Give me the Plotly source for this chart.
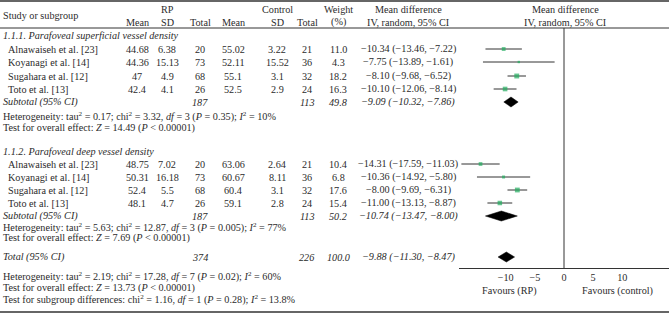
import plotly.graph_objects as go

# ---------------- data ----------------
studies = ["Alnawaiseh et al. [23]", "Koyanagi et al. [14]", "Sugahara et al. [12]", "Toto et al. [13]"]

sup_rp_mean = [44.68, 44.36, 47, 42.4]
sup_rp_sd = [6.38, 15.13, 4.9, 4.1]
sup_rp_n = [20, 73, 68, 26]
sup_ct_mean = [55.02, 52.11, 55.1, 52.5]
sup_ct_sd = [3.22, 15.52, 3.1, 2.9]
sup_ct_n = [21, 36, 32, 24]
sup_weight = [11.0, 4.3, 18.2, 16.3]
sup_md = [-10.34, -7.75, -8.10, -10.10]
sup_lo = [-13.46, -13.89, -9.68, -12.06]
sup_hi = [-7.22, -1.61, -6.52, -8.14]

deep_rp_mean = [48.75, 50.31, 52.4, 48.1]
deep_rp_sd = [7.02, 16.18, 5.5, 4.7]
deep_rp_n = [20, 73, 68, 26]
deep_ct_mean = [63.06, 60.67, 60.4, 59.1]
deep_ct_sd = [2.64, 8.11, 3.1, 2.8]
deep_ct_n = [21, 36, 32, 24]
deep_weight = [10.4, 6.8, 17.6, 15.4]
deep_md = [-14.31, -10.36, -8.00, -11.00]
deep_lo = [-17.59, -14.92, -9.69, -13.13]
deep_hi = [-11.03, -5.80, -6.31, -8.87]

# pooled: rp_total, ct_total, weight, md, lo, hi
sup_pooled = [187, 113, 49.8, -9.09, -10.32, -7.86]
deep_pooled = [187, 113, 50.2, -10.74, -13.47, -8.00]
total_pooled = [374, 226, 100.0, -9.88, -11.30, -8.47]

sup_het = "Heterogeneity: tau<sup>2</sup> = 0.17; chi<sup>2</sup> = 3.32, <i>df</i> = 3 (<i>P</i> = 0.35); <i>I</i><sup>2</sup> = 10%"
sup_test = "Test for overall effect: <i>Z</i> = 14.49 (<i>P</i> < 0.00001)"
deep_het = "Heterogeneity: tau<sup>2</sup> = 5.63; chi<sup>2</sup> = 12.87, <i>df</i> = 3 (<i>P</i> = 0.005); <i>I</i><sup>2</sup> = 77%"
deep_test = "Test for overall effect: <i>Z</i> = 7.69 (<i>P</i> < 0.00001)"
tot_het = "Heterogeneity: tau<sup>2</sup> = 2.19; chi<sup>2</sup> = 17.28, <i>df</i> = 7 (<i>P</i> = 0.02); <i>I</i><sup>2</sup> = 60%"
tot_test = "Test for overall effect: <i>Z</i> = 13.73 (<i>P</i> < 0.00001)"
tot_sub = "Test for subgroup differences: chi<sup>2</sup> = 1.16, <i>df</i> = 1 (<i>P</i> = 0.28); <i>I</i><sup>2</sup> = 13.8%"

tick_vals = [-10, -5, 0, 5, 10]
tick_text = ["−10", "−5", "0", "5", "10"]

# ---------------- layout constants ----------------
W, H = 669, 319
FONT = "Liberation Serif"
FS = 10.2
TXT = "#2b2b2b"
GREEN = "#21ad5e"

col = {"study": 6, "rp_mean": 137, "rp_sd": 167, "rp_n": 200, "ct_mean": 233,
       "ct_sd": 277, "ct_n": 307, "w": 338, "md": 408}

row_sup = [49, 62, 76, 89]
row_deep = [164, 177, 190, 203]
y_sup_title, y_sup_sub, y_sup_het, y_sup_test = 35, 102, 116, 128
y_deep_title, y_deep_sub, y_deep_het, y_deep_test = 151, 216, 227, 238
y_tot, y_tot_het, y_tot_test, y_tot_sub = 257, 276, 288, 299
y_axis = 268
diamond_half = 5


def fmt(v):
    return str(v)


def fmt_md(m, lo, hi):
    s = f"{m:.2f} ({lo:.2f}, {hi:.2f})"
    return s.replace("-", "−")


annotations = []


def txt(xpx, ypx, text, anchor="center", italic=False, xref="paper", xval=None):
    if italic:
        text = f"<i>{text}</i>"
    annotations.append(dict(
        x=(xpx / W) if xval is None else xval, xref=xref, y=ypx, yref="y",
        text=text, showarrow=False, xanchor=anchor, yanchor="middle",
        font=dict(family=FONT, size=FS, color=TXT)))


# headers
txt(1, 15, "Study or subgroup", "left")
txt(col["rp_sd"], 9, "RP")
txt(col["ct_sd"], 9, "Control")
for c in ["rp_mean", "ct_mean"]:
    txt(col[c], 22, "Mean")
for c in ["rp_sd", "ct_sd"]:
    txt(col[c], 22, "SD")
for c in ["rp_n", "ct_n"]:
    txt(col[c], 22, "Total")
txt(col["w"], 9, "Weight")
txt(col["w"], 22, "(%)")
txt(col["md"], 9, "Mean difference")
txt(col["md"], 22, "IV, random, 95% CI")
txt(0, 9, "Mean difference", xref="x", xval=0.3)
txt(0, 22, "IV, random, 95% CI", xref="x", xval=0.3)


def group(title, ytitle, rows, rpm, rps, rpn, ctm, cts, ctn, w, md, lo, hi, pooled, ysub, het, yhet, test, ytest):
    txt(1, ytitle, title, "left", italic=True)
    for i, y in enumerate(rows):
        txt(col["study"], y, studies[i], "left")
        txt(col["rp_mean"], y, fmt(rpm[i]))
        txt(col["rp_sd"], y, fmt(rps[i]))
        txt(col["rp_n"], y, fmt(rpn[i]))
        txt(col["ct_mean"], y, fmt(ctm[i]))
        txt(col["ct_sd"], y, fmt(cts[i]))
        txt(col["ct_n"], y, fmt(ctn[i]))
        txt(col["w"], y, f"{w[i]:.1f}")
        txt(col["md"], y, fmt_md(md[i], lo[i], hi[i]))
    txt(1, ysub, "Subtotal (95% CI)", "left", italic=True)
    txt(col["rp_n"], ysub, fmt(pooled[0]), italic=True)
    txt(col["ct_n"], ysub, fmt(pooled[1]), italic=True)
    txt(col["w"], ysub, f"{pooled[2]:.1f}", italic=True)
    txt(col["md"], ysub, fmt_md(*pooled[3:]), italic=True)
    txt(1, yhet, het, "left")
    txt(1, ytest, test, "left")


group("1.1.1. Parafoveal superficial vessel density", y_sup_title, row_sup,
      sup_rp_mean, sup_rp_sd, sup_rp_n, sup_ct_mean, sup_ct_sd, sup_ct_n,
      sup_weight, sup_md, sup_lo, sup_hi, sup_pooled, y_sup_sub, sup_het, y_sup_het, sup_test, y_sup_test)
group("1.1.2. Parafoveal deep vessel density", y_deep_title, row_deep,
      deep_rp_mean, deep_rp_sd, deep_rp_n, deep_ct_mean, deep_ct_sd, deep_ct_n,
      deep_weight, deep_md, deep_lo, deep_hi, deep_pooled, y_deep_sub, deep_het, y_deep_het, deep_test, y_deep_test)

txt(1, y_tot, "Total (95% CI)", "left", italic=True)
txt(col["rp_n"], y_tot, fmt(total_pooled[0]), italic=True)
txt(col["ct_n"], y_tot, fmt(total_pooled[1]), italic=True)
txt(col["w"], y_tot, f"{total_pooled[2]:.1f}", italic=True)
txt(col["md"], y_tot, fmt_md(*total_pooled[3:]), italic=True)
txt(1, y_tot_het, tot_het, "left")
txt(1, y_tot_test, tot_test, "left")
txt(1, y_tot_sub, tot_sub, "left")

txt(0, y_axis + 23, "Favours (RP)", xref="x", xval=-9.3)
txt(0, y_axis + 23, "Favours (control)", xref="x", xval=9.1)

fig = go.Figure()

# study estimates
for rows, md, lo, hi, w in [(row_sup, sup_md, sup_lo, sup_hi, sup_weight),
                            (row_deep, deep_md, deep_lo, deep_hi, deep_weight)]:
    fig.add_trace(go.Scatter(
        x=md, y=rows, mode="markers",
        marker=dict(symbol="square", color=GREEN, size=[1.15 * v ** 0.5 for v in w], line=dict(width=0)),
        error_x=dict(type="data", symmetric=False,
                     array=[h - m for h, m in zip(hi, md)],
                     arrayminus=[m - l for m, l in zip(md, lo)],
                     width=0, thickness=1, color="#333333"),
        hoverinfo="skip", showlegend=False))

# diamonds
for pooled, y in [(sup_pooled, y_sup_sub), (deep_pooled, y_deep_sub), (total_pooled, y_tot)]:
    m, lo, hi = pooled[3], pooled[4], pooled[5]
    fig.add_trace(go.Scatter(
        x=[lo, m, hi, m, lo], y=[y, y - diamond_half, y, y + diamond_half, y],
        mode="lines", fill="toself", fillcolor="black", line=dict(color="black", width=0.5),
        hoverinfo="skip", showlegend=False))

shapes = [
    dict(type="line", xref="paper", yref="y", x0=0, x1=1, y0=1, y1=1, line=dict(color="#333", width=1.5)),
    dict(type="line", xref="paper", yref="y", x0=0, x1=1, y0=28, y1=28, line=dict(color="#333", width=1)),
    dict(type="line", xref="paper", yref="y", x0=0, x1=1, y0=312, y1=312, line=dict(color="#333", width=1.5)),
    dict(type="line", xref="x", yref="y", x0=0, x1=0, y0=28, y1=y_axis, line=dict(color="#333", width=1)),
]

fig.update_layout(
    width=W, height=H, margin=dict(l=0, r=0, t=0, b=0),
    paper_bgcolor="white", plot_bgcolor="white",
    annotations=annotations, shapes=shapes,
    font=dict(family=FONT, size=FS, color=TXT),
    xaxis=dict(domain=[459 / W, 1], range=[-18, 18], anchor="free", position=(H - y_axis) / H,
               showline=True, linecolor="#333", linewidth=1, showgrid=False, zeroline=False,
               tickmode="array", tickvals=tick_vals, ticktext=tick_text, ticks="",
               tickfont=dict(family=FONT, size=FS, color=TXT), fixedrange=True),
    yaxis=dict(domain=[0, 1], range=[H, 0], visible=False, fixedrange=True),
    hovermode=False,
)

fig.write_html("out.html", config={"displayModeBar": False},
               post_script="document.body.style.margin='0';document.body.style.overflow='hidden';")
